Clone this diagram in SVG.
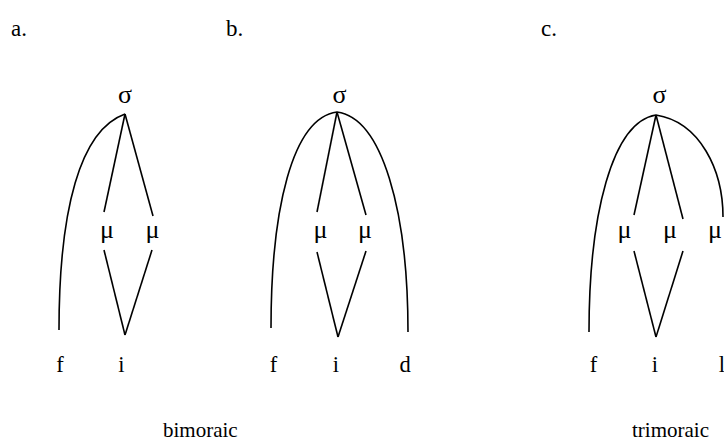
<svg xmlns="http://www.w3.org/2000/svg" width="724" height="444" viewBox="0 0 724 444" font-family="'Liberation Serif', 'Times New Roman', 'DejaVu Serif', serif">
<style>
text{font-family:'Liberation Serif','Times New Roman','DejaVu Serif',serif;font-size:21px;fill:#000}
.h{font-size:23px}
.g{font-size:26px;text-anchor:middle}
.m{font-size:22.5px;text-anchor:middle}
.c path,.c line{stroke:#000;stroke-width:1.6;fill:none}
</style>
<rect width="724" height="444" fill="#fff"/>
<g id="labels">
<text class="h" x="11" y="36">a.</text>
<text class="h" x="226" y="36">b.</text>
<text class="h" x="541" y="36">c.</text>
<text x="163" y="437">bimoraic</text>
<text x="709" y="437" text-anchor="end">trimoraic</text>
</g>
<g id="tree-a">
<text class="g" x="125" y="103">σ</text>
<text class="g" x="107" y="238">μ</text>
<text class="g" x="152.5" y="238">μ</text>
<text class="m" x="60" y="372">f</text>
<text class="m" x="121.5" y="372">i</text>
</g>
<g id="tree-b">
<text class="g" x="339.5" y="103">σ</text>
<text class="g" x="320.5" y="238">μ</text>
<text class="g" x="365" y="238">μ</text>
<text class="m" x="273.5" y="372">f</text>
<text class="m" x="336" y="372">i</text>
<text class="m" x="405" y="372">d</text>
</g>
<g id="tree-c">
<text class="g" x="659.5" y="103">σ</text>
<text class="g" x="624.5" y="238">μ</text>
<text class="g" x="670" y="238">μ</text>
<text class="g" x="715" y="238">μ</text>
<text class="m" x="593.5" y="372">f</text>
<text class="m" x="655" y="372">i</text>
<text class="m" x="722" y="372">l</text>
</g>
<g id="connectors" class="c">
<path d="M59,330 C59,210 80,130 125,114"/>
<line x1="125" y1="114" x2="104" y2="212"/>
<line x1="125" y1="114" x2="153" y2="216"/>
<line x1="104" y1="250" x2="125" y2="335"/>
<line x1="152" y1="250" x2="125" y2="335"/>

<path d="M271,328 C271,210 292,118 337,112"/>
<path d="M337,112 C382,118 408,210 408,332"/>
<line x1="337" y1="112" x2="317" y2="212"/>
<line x1="337" y1="112" x2="366" y2="215"/>
<line x1="317" y1="252" x2="338" y2="337"/>
<line x1="366" y1="251" x2="338" y2="337"/>

<path d="M589,332 C589,215 612,122 656,115"/>
<path d="M656,115 C700,122 723,170 723,217"/>
<line x1="656" y1="115" x2="634" y2="215"/>
<line x1="656" y1="115" x2="683" y2="219"/>
<line x1="634" y1="251" x2="656" y2="337"/>
<line x1="683" y1="251" x2="656" y2="337"/>
</g>
</svg>
